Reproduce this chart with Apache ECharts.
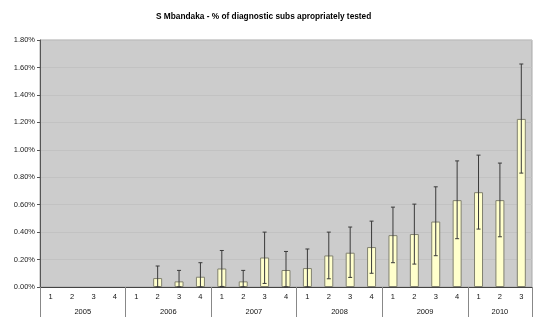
<!DOCTYPE html>
<html><head><meta charset="utf-8">
<script src="https://cdn.jsdelivr.net/npm/echarts@6/dist/echarts.min.js"></script>
<style>html,body{margin:0;padding:0;background:#fff}#c{width:550px;height:327px}</style>
</head><body><div id="c"></div>
<script>
// Data (values in percent)
const quarters = ['1','2','3','4','1','2','3','4','1','2','3','4','1','2','3','4','1','2','3','4','1','2','3'];
const years = ['2005','2006','2007','2008','2009','2010'];
const yearBoundaries = [0,4,8,12,16,20,23];
const yearCenters = [2,6,10,14,18,21.5];
const values = [null,null,null,null, null,0.065,0.041,0.075, 0.135,0.041,0.215,0.124, 0.138,0.230,0.250,0.291, 0.378,0.386,0.477,0.633, 0.691,0.633,1.225];
const errLow  = [null,null,null,null, null,0,0,0, 0.004,0,0.026,0, 0,0.060,0.070,0.100, 0.177,0.167,0.228,0.352, 0.422,0.366,0.830];
const errHigh = [null,null,null,null, null,0.153,0.121,0.177, 0.266,0.121,0.400,0.259, 0.277,0.400,0.437,0.480, 0.582,0.604,0.730,0.919, 0.961,0.903,1.625];
const yTicks = ['0.00%','0.20%','0.40%','0.60%','0.80%','1.00%','1.20%','1.40%','1.60%','1.80%'];

const errData = [];
values.forEach((v,i)=>{ if (errHigh[i] != null) errData.push([i, errLow[i], errHigh[i]]); });

const font = 'Liberation Sans, Arial, sans-serif';
const chart = echarts.init(document.getElementById('c'), null, {renderer:'canvas'});
chart.setOption({
  animation:false,
  title:{text:'S Mbandaka - % of diagnostic subs apropriately tested', left:151, top:8,
    textStyle:{fontSize:8.3, fontWeight:'bold', color:'#000', fontFamily:font}},
  grid:{left:40, right:18, top:40, bottom:40, show:true, backgroundColor:'#cccccc', borderColor:'#a8a8a8', borderWidth:1},
  xAxis:[{
    type:'category', data:quarters, position:'bottom',
    axisLine:{lineStyle:{color:'#444', width:1}},
    axisTick:{interval:0, length:15, lineStyle:{color:'#555'}},
    axisLabel:{interval:0, margin:6, fontSize:7.5, color:'#111', fontFamily:font}
  },{
    type:'value', min:0, max:23, position:'bottom',
    axisLine:{show:false}, splitLine:{show:false},
    axisTick:{show:true, customValues:yearBoundaries, length:30, lineStyle:{color:'#888'}},
    axisLabel:{show:true, customValues:yearCenters, margin:21, fontSize:7.5, color:'#111', fontFamily:font,
      formatter:(v)=>{ const k = yearCenters.indexOf(v); return k>=0 ? years[k] : ''; }}
  }],
  yAxis:{
    type:'value', min:0, max:1.8, interval:0.2,
    axisLine:{show:true, lineStyle:{color:'#555'}},
    axisTick:{show:true, length:3, lineStyle:{color:'#555'}},
    splitLine:{lineStyle:{color:'#c2c2c2'}},
    axisLabel:{margin:5, fontSize:7.5, color:'#222', fontFamily:font,
      formatter:(v)=> yTicks[Math.round(v/0.2)]}
  },
  series:[{
    type:'bar', data:values, barWidth:9, xAxisIndex:0,
    itemStyle:{color:'#ffffcc', borderColor:'#808070', borderWidth:1}
  },{
    type:'custom', data:errData, xAxisIndex:0, z:5,
    encode:{x:0, y:[1,2]},
    renderItem:(params, api)=>{
      const i = api.value(0);
      const hi = api.coord([i, api.value(2)]);
      const lo = api.coord([i, api.value(1)]);
      const w = 4;
      const st = {stroke:'#3a3a3a', lineWidth:1};
      return {type:'group', children:[
        {type:'line', shape:{x1:hi[0], y1:hi[1], x2:lo[0], y2:lo[1]}, style:st},
        {type:'line', shape:{x1:hi[0]-w/2, y1:hi[1], x2:hi[0]+w/2, y2:hi[1]}, style:st},
        {type:'line', shape:{x1:lo[0]-w/2, y1:lo[1], x2:lo[0]+w/2, y2:lo[1]}, style:st}
      ]};
    }
  }]
});
</script></body></html>
